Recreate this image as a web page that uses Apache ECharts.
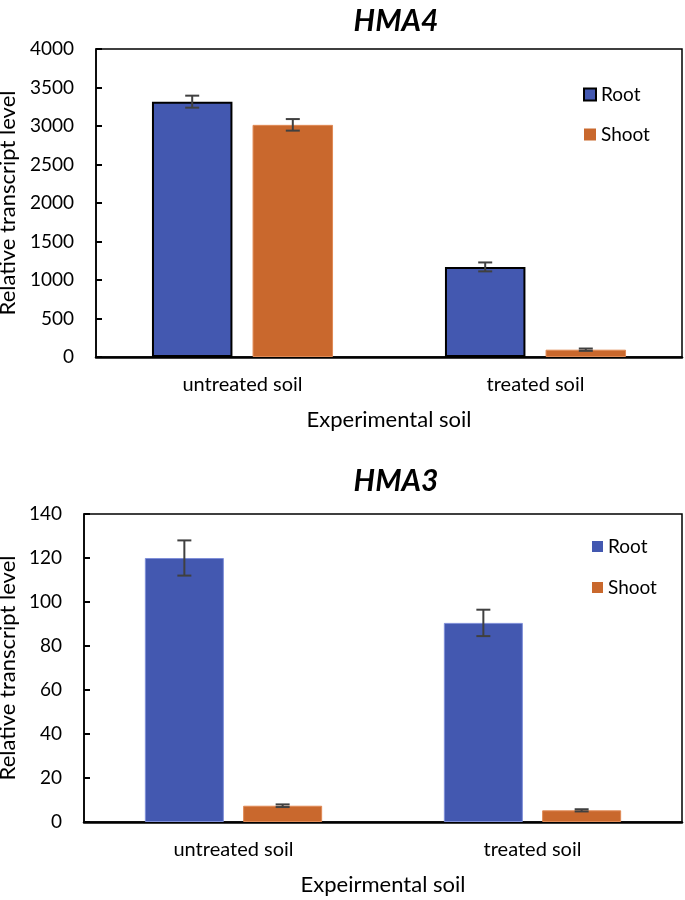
<!DOCTYPE html>
<html>
<head>
<meta charset="utf-8">
<script src="https://cdn.jsdelivr.net/npm/echarts@6/dist/echarts.min.js"></script>
<style>
html,body{margin:0;padding:0;background:#fff;}
#c{width:685px;height:900px;}
</style>
</head>
<body>
<div id="c"></div>
<script>
// ---- data ----
const categories = ['untreated soil', 'treated soil'];
const hma4Root = [3316, 1170];
const hma4RootErr = [78, 58];
const hma4Shoot = [3015, 95];
const hma4ShootErr = [75, 15];
const hma3Root = [120, 90.5];
const hma3RootErr = [8, 6];
const hma3Shoot = [7.4, 5.3];
const hma3ShootErr = [0.6, 0.5];
const hma4Ticks = {min: 0, max: 4000, interval: 500};
const hma3Ticks = {min: 0, max: 140, interval: 20};

const BLUE = '#4358B0';
const ORANGE = '#C9682D';
const FONT = 'Lato';

function errData(vals, errs) {
  return vals.map((v, i) => [i, v, errs[i]]);
}

function makeErr(gridIdx, vals, errs, side, catGap, barGap) {
  return {
    type: 'custom',
    xAxisIndex: gridIdx, yAxisIndex: gridIdx,
    z: 10,
    silent: true,
    encode: {x: 0, y: 1},
    data: errData(vals, errs),
    renderItem: function (params, api) {
      const band = api.size([1, 0])[0];
      const w = band * (1 - catGap) / (2 + barGap);
      const off = side * (w + w * barGap) / 2;
      const c = api.coord([api.value(0), api.value(1)]);
      const hi = api.coord([api.value(0), api.value(1) + api.value(2)]);
      const lo = api.coord([api.value(0), api.value(1) - api.value(2)]);
      const x = c[0] + off;
      const cap = 7;
      const st = {stroke: '#404040', lineWidth: 2};
      return {
        type: 'group',
        children: [
          {type: 'line', shape: {x1: x, y1: hi[1], x2: x, y2: lo[1]}, style: st},
          {type: 'line', shape: {x1: x - cap, y1: hi[1], x2: x + cap, y2: hi[1]}, style: st},
          {type: 'line', shape: {x1: x - cap, y1: lo[1], x2: x + cap, y2: lo[1]}, style: st}
        ]
      };
    }
  };
}

function xAxisCfg(gridIdx, name) {
  return {
    type: 'category', gridIndex: gridIdx, data: categories,
    name: name, nameLocation: 'middle', nameGap: 52, nameMoveOverlap: false,
    nameTextStyle: {color: '#000', fontFamily: FONT, fontSize: 22},
    axisLine: {show: true, lineStyle: {color: '#000', width: 2.5}},
    axisTick: {show: false},
    axisLabel: {margin: 18, color: '#000', fontFamily: FONT, fontSize: 20}
  };
}
function yAxisCfg(gridIdx, t, gap) {
  return {
    type: 'value', gridIndex: gridIdx, min: t.min, max: t.max, interval: t.interval,
    name: 'Relative transcript level', nameLocation: 'middle', nameGap: gap, nameMoveOverlap: false,
    nameTextStyle: {color: '#000', fontFamily: FONT, fontSize: 22},
    axisLine: {show: true, lineStyle: {color: '#000', width: 1.5}},
    axisTick: {show: true, inside: true, length: 6, lineStyle: {color: '#000', width: 2}},
    splitLine: {show: false},
    axisLabel: {margin: 22, color: '#000', fontFamily: FONT, fontSize: 19,
                formatter: function (v) { return String(v); }}
  };
}

const cg4 = 0.382, bg4 = 0.25;
const cg3 = 0.407, bg3 = 0.244;

const option = {
  animation: false,
  backgroundColor: '#fff',
  title: [
    {text: 'HMA4', left: 391, top: 1, textAlign: 'center',
     textStyle: {fontFamily: FONT, fontSize: 30, fontWeight: 'bold', fontStyle: 'italic', color: '#000'}},
    {text: 'HMA3', left: 391, top: 461, textAlign: 'center',
     textStyle: {fontFamily: FONT, fontSize: 30, fontWeight: 'bold', fontStyle: 'italic', color: '#000'}}
  ],
  legend: [
    {orient: 'vertical', left: 578, top: 80, itemWidth: 12, itemHeight: 12, itemGap: 21, icon: 'rect',
     textStyle: {fontFamily: FONT, fontSize: 19, color: '#000', lineHeight: 18},
     data: [{name: 'Root', itemStyle: {color: BLUE, borderColor: '#000', borderWidth: 2}},
            {name: 'Shoot', itemStyle: {color: ORANGE, borderWidth: 0}}]},
    {orient: 'vertical', left: 587, top: 532, itemWidth: 11, itemHeight: 11, itemGap: 22, icon: 'rect',
     textStyle: {fontFamily: FONT, fontSize: 19, color: '#000', lineHeight: 18},
     data: [{name: 'Root', itemStyle: {color: BLUE, borderWidth: 0}},
            {name: 'Shoot', itemStyle: {color: ORANGE, borderWidth: 0}}]}
  ],
  grid: [
    {left: 96, top: 49, width: 586, height: 308, show: true, borderColor: '#000', borderWidth: 1.5,
     backgroundColor: 'transparent', outerBoundsMode: 'none', containLabel: false},
    {left: 84, top: 514, width: 598, height: 308, show: true, borderColor: '#000', borderWidth: 1.5,
     backgroundColor: 'transparent', outerBoundsMode: 'none', containLabel: false}
  ],
  xAxis: [xAxisCfg(0, 'Experimental soil'), xAxisCfg(1, 'Expeirmental soil')],
  yAxis: [yAxisCfg(0, hma4Ticks, 77), yAxisCfg(1, hma3Ticks, 65)],
  series: [
    {type: 'bar', name: 'Root', xAxisIndex: 0, yAxisIndex: 0, data: hma4Root,
     barCategoryGap: (cg4 * 100) + '%', barGap: (bg4 * 100) + '%',
     itemStyle: {color: BLUE, borderColor: '#000', borderWidth: 2}},
    {type: 'bar', name: 'Shoot', xAxisIndex: 0, yAxisIndex: 0, data: hma4Shoot,
     barCategoryGap: (cg4 * 100) + '%', barGap: (bg4 * 100) + '%',
     itemStyle: {color: ORANGE, borderColor: '#E08A55', borderWidth: 1}},
    {type: 'bar', name: 'Root', xAxisIndex: 1, yAxisIndex: 1, data: hma3Root,
     barCategoryGap: (cg3 * 100) + '%', barGap: (bg3 * 100) + '%',
     itemStyle: {color: BLUE, borderColor: '#7F8FD8', borderWidth: 1}},
    {type: 'bar', name: 'Shoot', xAxisIndex: 1, yAxisIndex: 1, data: hma3Shoot,
     barCategoryGap: (cg3 * 100) + '%', barGap: (bg3 * 100) + '%',
     itemStyle: {color: ORANGE, borderColor: '#E08A55', borderWidth: 1}},
    makeErr(0, hma4Root, hma4RootErr, -1, cg4, bg4),
    makeErr(0, hma4Shoot, hma4ShootErr, 1, cg4, bg4),
    makeErr(1, hma3Root, hma3RootErr, -1, cg3, bg3),
    makeErr(1, hma3Shoot, hma3ShootErr, 1, cg3, bg3)
  ]
};

const chart = echarts.init(document.getElementById('c'), null, {renderer: 'canvas'});
chart.setOption(option);
</script>
</body>
</html>
